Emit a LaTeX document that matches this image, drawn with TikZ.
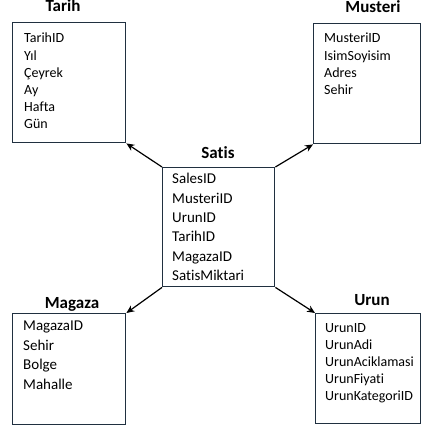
\documentclass[tikz,border=0pt]{standalone}
\usepackage{fontspec}
\setmainfont{Carlito}[Ligatures=NoCommon]
\usetikzlibrary{arrows.meta}
\definecolor{boxline}{RGB}{32,48,64}
\tikzset{
  tbl/.style={draw=boxline, line width=1.4pt, rectangle, inner sep=0pt, anchor=north west},
  ttl/.style={font=\fontsize{17}{20}\selectfont\bfseries, inner sep=0pt, anchor=center},
  fld/.style={font=\fontsize{14}{17.2}\selectfont, align=left, inner sep=0pt, anchor=north west},
  fldb/.style={font=\fontsize{15}{19.4}\selectfont, align=left, inner sep=0pt, anchor=north west},
  link/.style={draw=black, line width=1.2pt, -{Stealth[length=8pt,width=7pt]}}
}
\begin{document}
\begin{tikzpicture}[x=1pt,y=-1pt]
\useasboundingbox (0,0) rectangle (421,438);
% boxes
\node[tbl, minimum width=113pt, minimum height=120pt] (tarih) at (12,22) {};
\node[tbl, minimum width=107pt, minimum height=120pt] (musteri) at (313,23) {};
\node[tbl, minimum width=112pt, minimum height=119pt] (satis) at (162,167) {};
\node[tbl, minimum width=113pt, minimum height=111pt] (magaza) at (12,313) {};
\node[tbl, minimum width=105pt, minimum height=110pt] (urun) at (315,313) {};
% titles
\node[ttl] (tarihT) at (63,6) {Tarih};
\node[ttl] (musteriT) at (373,7) {Musteri};
\node[ttl] (satisT) at (218,153) {Satis};
\node[ttl] (magazaT) at (72,304) {Magaza};
\node[ttl] (urunT) at (372,300) {Urun};
% fields
\node[fld] (tarihF) at (24,33) {TarihID\\Yıl\\Çeyrek\\Ay\\Hafta\\Gün};
\node[fld] (musteriF) at (324,33) {MusteriID\\IsimSoyisim\\Adres\\Sehir};
\node[fldb] (satisF) at (172,173) {SalesID\\MusteriID\\UrunID\\TarihID\\MagazaID\\SatisMiktari};
\node[fldb] (magazaF) at (23,321) {MagazaID\\Sehir\\Bolge\\Mahalle};
\node[fld] (urunF) at (325,323) {UrunID\\UrunAdi\\UrunAciklamasi\\UrunFiyati\\UrunKategoriID};
% connectors
\draw[link] (satis.north west) -- (tarih.south east);
\draw[link] (satis.north east) -- (musteri.south west);
\draw[link] (satis.south west) -- (magaza.north east);
\draw[link] (satis.south east) -- (urun.north west);
\end{tikzpicture}
\end{document}
